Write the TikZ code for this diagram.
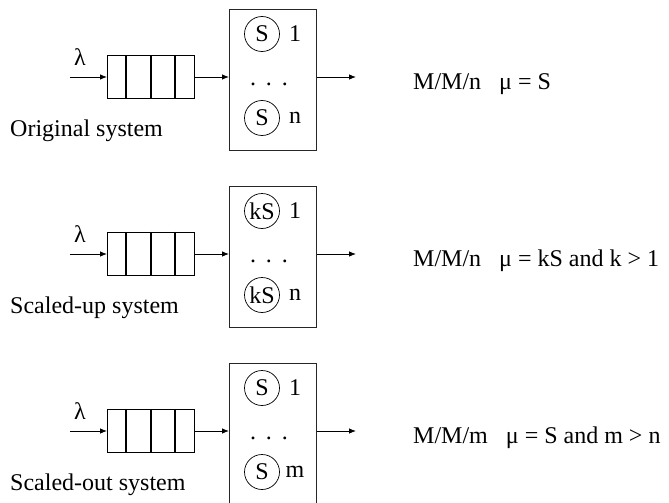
\documentclass[tikz,border=0pt]{standalone}
\usepackage{fontspec}
\setmainfont{Liberation Serif}
\usetikzlibrary{arrows.meta}

% One queueing system: arrival arrow, FIFO buffer, server pool, departure arrow
% #1 row id, #2 y of the flow line, #3 server label, #4 last server index,
% #5 system name, #6 model description
\newcommand{\queuerow}[6]{%
  \coordinate (in#1) at (70,#2);
  \node[qbox, minimum width=87pt, minimum height=43pt, anchor=west] (q#1) at (107,#2) {};
  \foreach \dx in {19,44,68}
    \draw[qline] ([xshift=\dx pt]q#1.north west) -- ([xshift=\dx pt]q#1.south west);
  \draw[flow] (in#1) -- (q#1.west);
  \node (lam#1) at (80,#2-20) {λ};
  \node[srvbox, minimum width=87pt, minimum height=141pt, anchor=north west] (b#1) at (229,#2-68) {};
  \draw[flow] (q#1.east) -- (q#1.east -| b#1.west);
  \node[srv] (s#1a) at (262,#2-43) {#3};
  \node[srv] (s#1b) at (262,#2+41) {#3};
  \node (i#1a) at (295,#2-43) {1};
  \node (i#1b) at (295,#2+41) {#4};
  \node[anchor=base] (d#1) at (269,#2+8) {.\hspace{10pt}.\hspace{10pt}.};
  \coordinate (out#1) at (356,#2);
  \draw[flow] (q#1.east -| b#1.east) -- (out#1);
  \node[anchor=base west] (f#1) at (413,#2+12) {#6};
  \node[anchor=base west] (n#1) at (10,#2+59) {#5};
}

\begin{document}
\begin{tikzpicture}[x=1pt,y=-1pt,
  every node/.style={font=\fontsize{24}{28}\selectfont, inner sep=0pt},
  qbox/.style={draw, line width=1.3pt},
  qline/.style={line width=1.3pt},
  srvbox/.style={draw=black!85, line width=0.9pt},
  srv/.style={draw, circle, minimum size=35pt, line width=0.7pt},
  flow/.style={-{Latex[length=7pt,width=5.5pt]}, line width=0.8pt},
]
\useasboundingbox (0,0) rectangle (669,503);

\queuerow{1}{77}{S}{n}{Original system}{M/M/n\hspace{18pt}μ = S}
\queuerow{2}{254}{kS}{n}{Scaled-up system}{M/M/n\hspace{18pt}μ = kS and k > 1}
\queuerow{3}{431}{S}{m}{Scaled-out system}{M/M/m\hspace{18pt}μ = S and m > n}
\end{tikzpicture}
\end{document}
